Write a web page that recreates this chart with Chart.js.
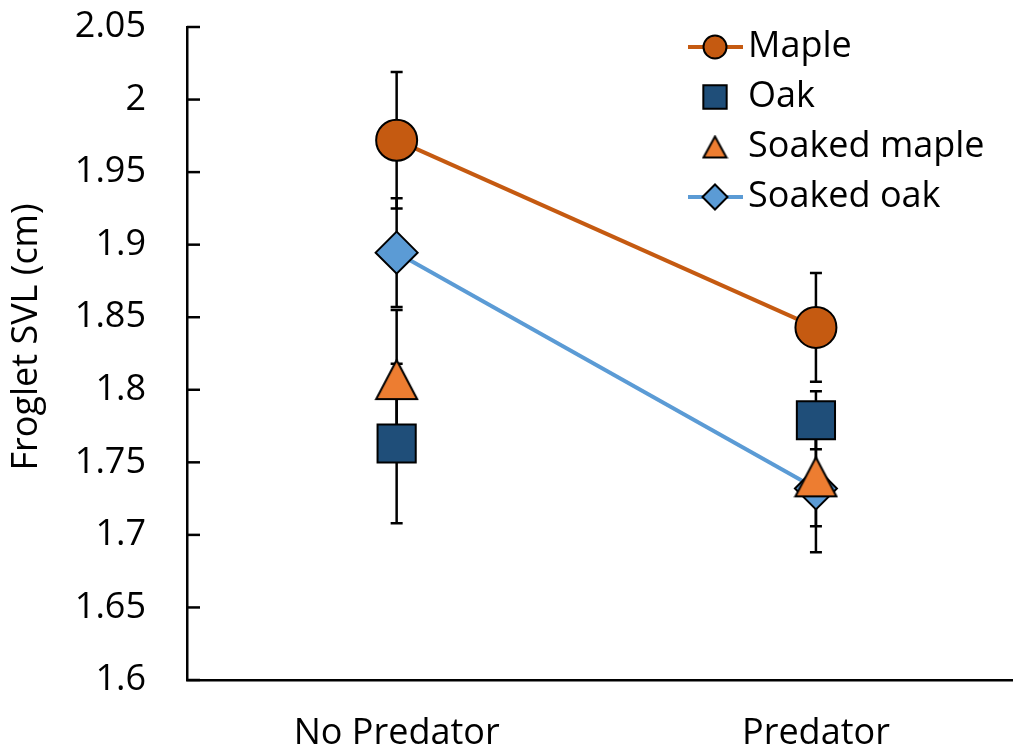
<!DOCTYPE html>
<html>
<head>
<meta charset="utf-8">
<script src="https://cdn.jsdelivr.net/npm/chart.js@4/dist/chart.umd.min.js"></script>
<style>
  html, body { margin: 0; padding: 0; background: #fff; overflow: hidden; }
  #wrap { width: 1013px; height: 755px; position: relative; }
</style>
</head>
<body>
<div id="wrap"><canvas id="svlChart"></canvas></div>
<script>
// Dados
const categories = ['No Predator', 'Predator'];
const seriesNames = ['Maple', 'Oak', 'Soaked maple', 'Soaked oak'];
const mapleVals = [1.972, 1.843];
const mapleErr = [0.047, 0.0375];
const oakVals = [1.763, 1.779];
const oakErr = [0.055, 0.020];
const soakedMapleVals = [1.807, 1.740];
const soakedMapleErr = [0.048, 0.034];
const soakedOakVals = [1.8945, 1.732];
const soakedOakErr = [0.0375, 0.044];
const yTicks = [1.6, 1.65, 1.7, 1.75, 1.8, 1.85, 1.9, 1.95, 2, 2.05];

const FONT = "'Open Sans', 'Liberation Sans', sans-serif";

function toPoints(vals, errs) {
  return vals.map((v, i) => ({ x: i, y: v, err: errs[i] }));
}

// Triângulo do estilo Excel (um pouco mais alto que o equilátero)
function makeTriangle(w, h, fill) {
  const c = document.createElement('canvas');
  c.width = w + 4;
  c.height = h + 4;
  const g = c.getContext('2d');
  g.beginPath();
  g.moveTo((w + 4) / 2, 2);
  g.lineTo(w + 2, h + 2);
  g.lineTo(2, h + 2);
  g.closePath();
  g.fillStyle = fill;
  g.fill();
  g.lineWidth = 2;
  g.strokeStyle = '#000';
  g.stroke();
  return c;
}
const triBig = makeTriangle(41, 39, '#ED7D31');
const triSmall = makeTriangle(23, 21, '#ED7D31');

// Barras de erro desenhadas antes dos pontos
const errorBars = {
  id: 'errorBars',
  beforeDatasetsDraw(chart) {
    const ctx = chart.ctx;
    const yScale = chart.scales.y;
    ctx.save();
    ctx.strokeStyle = '#000';
    ctx.lineWidth = 2.5;
    chart.data.datasets.forEach((ds, i) => {
      const meta = chart.getDatasetMeta(i);
      meta.data.forEach((pt, j) => {
        const d = ds.data[j];
        const top = yScale.getPixelForValue(d.y + d.err);
        const bot = yScale.getPixelForValue(d.y - d.err);
        ctx.beginPath();
        ctx.moveTo(pt.x, top); ctx.lineTo(pt.x, bot);
        ctx.moveTo(pt.x - 6, top); ctx.lineTo(pt.x + 6, top);
        ctx.moveTo(pt.x - 6, bot); ctx.lineTo(pt.x + 6, bot);
        ctx.stroke();
      });
    });
    ctx.restore();
  }
};

// Marcas do eixo Y para dentro, título do eixo e legenda
const extras = {
  id: 'extras',
  afterDraw(chart) {
    const ctx = chart.ctx;
    const yScale = chart.scales.y;
    const left = chart.chartArea.left;
    ctx.save();
    ctx.strokeStyle = '#000';
    ctx.lineWidth = 2.5;
    yScale.ticks.forEach(t => {
      const py = yScale.getPixelForValue(t.value);
      ctx.beginPath();
      ctx.moveTo(left, py); ctx.lineTo(left + 13, py);
      ctx.stroke();
    });

    ctx.fillStyle = '#000';
    ctx.font = '36px ' + FONT;
    ctx.textAlign = 'center';
    ctx.textBaseline = 'middle';
    ctx.translate(27, 337);
    ctx.rotate(-Math.PI / 2);
    ctx.fillText('Froglet SVL (cm)', 0, 0);
    ctx.restore();

    // legenda
    const legendRadius = [11.5, 16.5, 14, 12.5];
    const legendStyle = ['circle', 'rect', triSmall, 'rectRot'];
    ctx.save();
    chart.data.datasets.forEach((ds, i) => {
      const cy = 47 + i * 50;
      if (ds.showLine !== false) {
        ctx.strokeStyle = ds.borderColor;
        ctx.lineWidth = 4;
        ctx.beginPath();
        ctx.moveTo(688, cy); ctx.lineTo(743, cy);
        ctx.stroke();
      }
      ctx.fillStyle = ds.pointBackgroundColor;
      ctx.strokeStyle = '#000';
      ctx.lineWidth = 2;
      Chart.helpers.drawPoint(ctx, {
        pointStyle: legendStyle[i], radius: legendRadius[i], rotation: 0, borderWidth: 2
      }, 715, cy);
      ctx.fillStyle = '#000';
      ctx.font = '36px ' + FONT;
      ctx.textAlign = 'left';
      ctx.textBaseline = 'middle';
      ctx.fillText(ds.label, 748, cy);
    });
    ctx.restore();
  }
};

const datasets = [
  {
    label: seriesNames[0], data: toPoints(mapleVals, mapleErr),
    borderColor: '#C55A11', borderWidth: 4, showLine: true,
    pointStyle: 'circle', pointRadius: 20.5, pointBackgroundColor: '#C55A11',
    pointBorderColor: '#000', pointBorderWidth: 2
  },
  {
    label: seriesNames[1], data: toPoints(oakVals, oakErr),
    borderColor: '#1F4E79', showLine: false,
    pointStyle: 'rect', pointRadius: 27, pointBackgroundColor: '#1F4E79',
    pointBorderColor: '#000', pointBorderWidth: 2
  },
  {
    label: seriesNames[2], data: toPoints(soakedMapleVals, soakedMapleErr),
    borderColor: '#ED7D31', showLine: false,
    pointStyle: triBig, pointRadius: 22, pointBackgroundColor: '#ED7D31',
    pointBorderColor: '#000', pointBorderWidth: 2
  },
  {
    label: seriesNames[3], data: toPoints(soakedOakVals, soakedOakErr),
    borderColor: '#5B9BD5', borderWidth: 4, showLine: true,
    pointStyle: 'rectRot', pointRadius: 21, pointBackgroundColor: '#5B9BD5',
    pointBorderColor: '#000', pointBorderWidth: 2
  }
];

const ctxSvl = document.getElementById('svlChart').getContext('2d');

const svlChart = new Chart(ctxSvl, {
  type: 'scatter',
  data: { datasets: datasets },
  options: {
    responsive: true,
    maintainAspectRatio: false,
    animation: false,
    layout: { autoPadding: false, padding: { top: 27, right: -6, bottom: 0, left: 0 } },
    plugins: { legend: { display: false }, tooltip: { enabled: false } },
    elements: { line: { tension: 0 } },
    scales: {
      x: {
        type: 'linear',
        min: -0.5,
        max: 1.47,
        afterBuildTicks: s => { s.ticks = categories.map((c, i) => ({ value: i })); },
        afterFit: s => { s.height = 75; s.paddingLeft = 0; s.paddingRight = 0; },
        ticks: {
          callback: v => categories[v],
          font: { family: FONT, size: 36 },
          color: '#000',
          padding: 32,
          maxRotation: 0
        },
        grid: { display: false, drawTicks: false },
        border: { display: true, color: '#000', width: 2.5 }
      },
      y: {
        min: 1.6,
        max: 2.05,
        afterBuildTicks: s => { s.ticks = yTicks.map(v => ({ value: v })); },
        afterFit: s => { s.width = 187; s.paddingTop = 0; s.paddingBottom = 0; },
        ticks: {
          callback: v => String(+v.toFixed(2)),
          font: { family: FONT, size: 36 },
          color: '#000',
          padding: 41
        },
        grid: { display: false, drawTicks: false },
        border: { display: true, color: '#000', width: 2.5 }
      }
    }
  },
  plugins: [errorBars, extras]
});
</script>
</body>
</html>
